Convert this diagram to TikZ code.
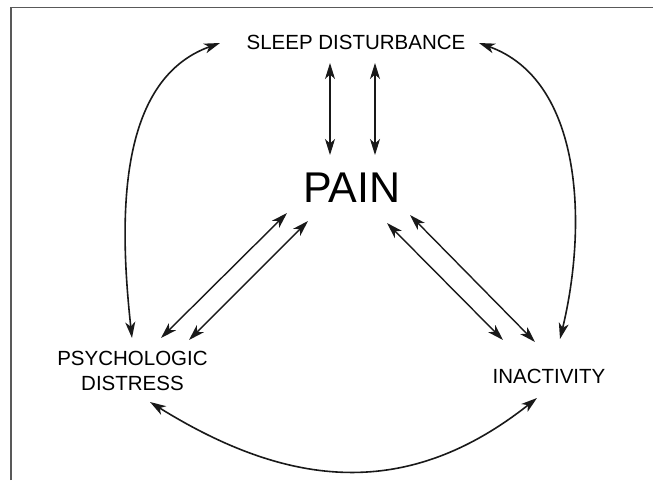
\documentclass[tikz,border=0pt]{standalone}
\usepackage{fontspec}
\setmainfont{Liberation Sans}
\usetikzlibrary{arrows.meta}
\begin{document}
\begin{tikzpicture}[x=1pt,y=-1pt,
  lbl/.style={inner sep=0pt,anchor=base,font=\fontsize{20.5}{25}\selectfont},
  dbl/.style={{Stealth[length=16pt,width=10pt,inset=4.5pt]}-{Stealth[length=16pt,width=10pt,inset=4.5pt]},line width=1.4pt,black!90},
  thin/.style={line width=1.1pt},
  curv/.style={line width=1.6pt},
  frame/.style={line width=1.5pt,black!65}]
\useasboundingbox (0,0) rectangle (653,480);
\draw[frame] (11,480) -- (11,7.5) -- (653,7.5);
\node[lbl] (sleep) at (356,49) {SLEEP DISTURBANCE};
\node[inner sep=0pt,anchor=base,font=\fontsize{43}{50}\selectfont] (pain) at (352,202) {PAIN};
\node[lbl,align=center] (psych) at (132.5,390) {PSYCHOLOGIC\\DISTRESS};
\node[lbl] (inact) at (549,383) {INACTIVITY};
% sleep <-> pain
\draw[dbl,thin] ([shift={(-26,14)}]sleep.base) -- ([shift={(-22,-47)}]pain.base);
\draw[dbl,thin] ([shift={(19,14)}]sleep.base) -- ([shift={(23,-47)}]pain.base);
% pain <-> psych
\draw[dbl] ([shift={(-65,11)}]pain.base) -- ([shift={(28.5,-52)}]psych.base);
\draw[dbl] ([shift={(-44,19)}]pain.base) -- ([shift={(56.5,-50)}]psych.base);
% pain <-> inactivity
\draw[dbl] ([shift={(35,21)}]pain.base) -- ([shift={(-46,-43)}]inact.base);
\draw[dbl] ([shift={(58,13)}]pain.base) -- ([shift={(-14,-41)}]inact.base);
% outer curves
\draw[dbl,curv] ([shift={(-136,-6)}]sleep.base) .. controls (117,80) and (119,219) .. ([shift={(-0.5,-52)}]psych.base);
\draw[dbl,curv] ([shift={(123,-6)}]sleep.base) .. controls (582,80) and (588,223) .. ([shift={(11,-44)}]inact.base);
\draw[dbl,curv] ([shift={(17.5,12)}]psych.base) .. controls (290,489) and (408,500) .. ([shift={(-12,15)}]inact.base);
\end{tikzpicture}
\end{document}
